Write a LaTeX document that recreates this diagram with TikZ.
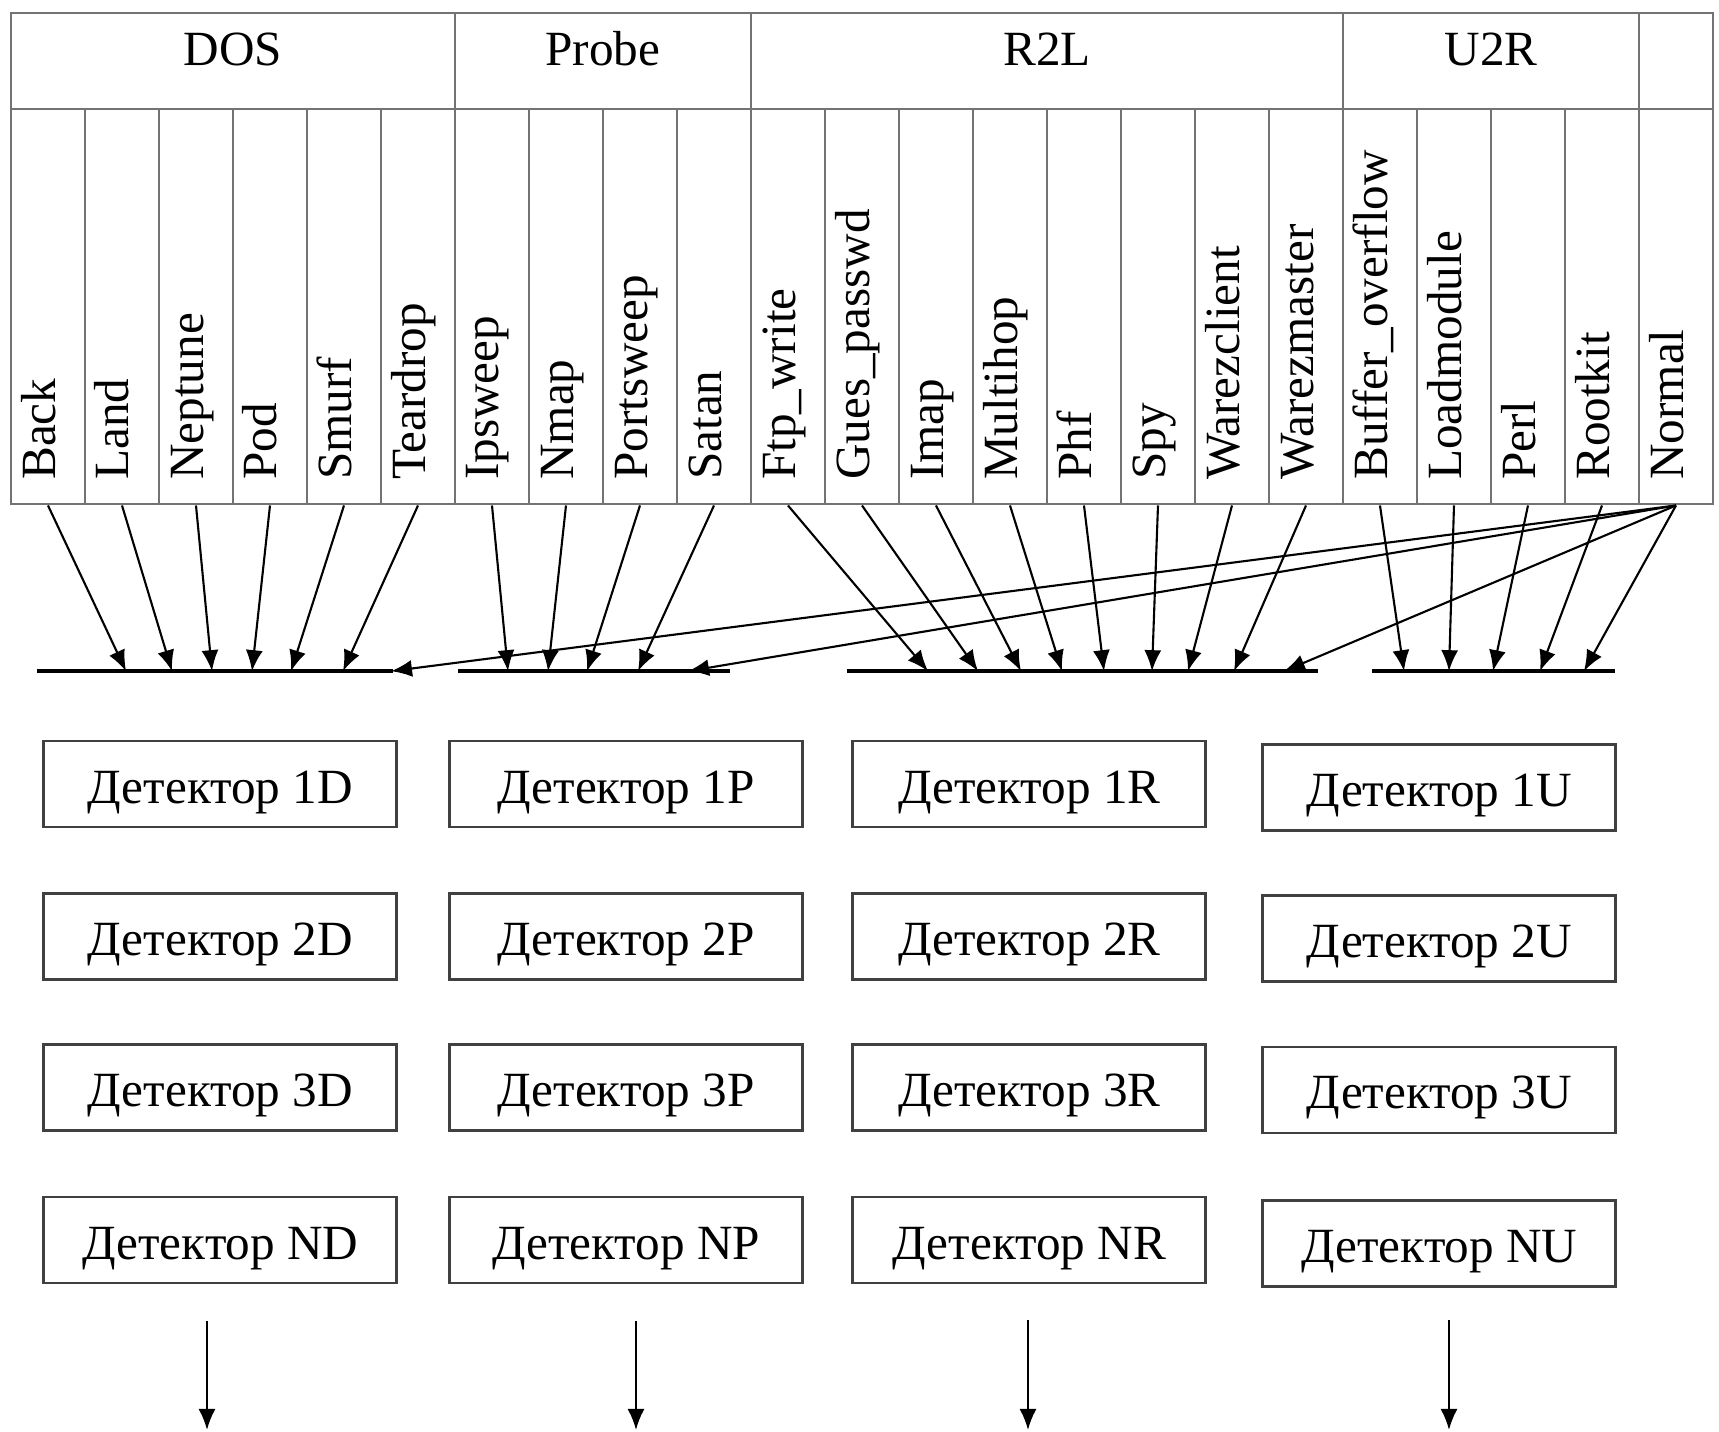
\documentclass[tikz,border=0pt]{standalone}
\usepackage{fontspec}
\setmainfont{Liberation Serif}
\usetikzlibrary{arrows.meta}

\begin{document}
\begin{tikzpicture}[font=\fontsize{14}{17}\selectfont, >={Latex[length=2.1mm,width=1.7mm]},
	head/.style={draw=black!55, line width=0.6pt, minimum height=0.954cm, inner sep=0, text height=0.33cm, text depth=0.24cm},
	cell/.style={draw=black!55, line width=0.6pt, minimum width=0.74cm, minimum height=3.957cm, inner sep=0},
	lbl/.style={rotate=90, anchor=base west, inner sep=0},
	det/.style={draw=black!75, line width=0.8pt, minimum width=3.53cm, minimum height=0.86cm, text height=0.38cm, text depth=0cm},
	bar/.style={line width=1.1pt},
	link/.style={->, line width=0.6pt}]
	\useasboundingbox (0,0) rectangle (17.19,14.32);

	% classes
	\node at (2.33,13.709) [head, minimum width=4.44cm] (dos) {DOS};
	\node at (6.03,13.709) [head, minimum width=2.96cm] (probe) {Probe};
	\node at (10.47,13.709) [head, minimum width=5.92cm] (r2l) {R2L};
	\node at (14.91,13.709) [head, minimum width=2.96cm] (u2r) {U2R};
	\node at (16.76,13.709) [head, minimum width=0.74cm] (norm) {};

	% attacks
	\node at (0.48,11.254) [cell] (back) {};
	\node at (1.22,11.254) [cell] (land) {};
	\node at (1.96,11.254) [cell] (neptune) {};
	\node at (2.70,11.254) [cell] (pod) {};
	\node at (3.44,11.254) [cell] (smurf) {};
	\node at (4.18,11.254) [cell] (teardrop) {};
	\node at (4.92,11.254) [cell] (ipsweep) {};
	\node at (5.66,11.254) [cell] (nmap) {};
	\node at (6.40,11.254) [cell] (portsweep) {};
	\node at (7.14,11.254) [cell] (satan) {};
	\node at (7.88,11.254) [cell] (ftpwrite) {};
	\node at (8.62,11.254) [cell] (guespasswd) {};
	\node at (9.36,11.254) [cell] (imap) {};
	\node at (10.10,11.254) [cell] (multihop) {};
	\node at (10.84,11.254) [cell] (phf) {};
	\node at (11.58,11.254) [cell] (spy) {};
	\node at (12.32,11.254) [cell] (warezclient) {};
	\node at (13.06,11.254) [cell] (warezmaster) {};
	\node at (13.80,11.254) [cell] (bufferoverflow) {};
	\node at (14.54,11.254) [cell] (loadmodule) {};
	\node at (15.28,11.254) [cell] (perl) {};
	\node at (16.02,11.254) [cell] (rootkit) {};
	\node at (16.76,11.254) [cell] (normal) {};

	\node at ([xshift=0.07cm,yshift=0.25cm]back.south) [lbl] (tback) {Back};
	\node at ([xshift=0.07cm,yshift=0.25cm]land.south) [lbl] (tland) {Land};
	\node at ([xshift=0.07cm,yshift=0.25cm]neptune.south) [lbl] (tneptune) {Neptune};
	\node at ([xshift=0.07cm,yshift=0.25cm]pod.south) [lbl] (tpod) {Pod};
	\node at ([xshift=0.07cm,yshift=0.25cm]smurf.south) [lbl] (tsmurf) {Smurf};
	\node at ([xshift=0.07cm,yshift=0.25cm]teardrop.south) [lbl] (tteardrop) {Teardrop};
	\node at ([xshift=0.07cm,yshift=0.25cm]ipsweep.south) [lbl] (tipsweep) {Ipsweep};
	\node at ([xshift=0.07cm,yshift=0.25cm]nmap.south) [lbl] (tnmap) {Nmap};
	\node at ([xshift=0.07cm,yshift=0.25cm]portsweep.south) [lbl] (tportsweep) {Portsweep};
	\node at ([xshift=0.07cm,yshift=0.25cm]satan.south) [lbl] (tsatan) {Satan};
	\node at ([xshift=0.07cm,yshift=0.25cm]ftpwrite.south) [lbl] (tftpwrite) {Ftp\_write};
	\node at ([xshift=0.07cm,yshift=0.25cm]guespasswd.south) [lbl] (tguespasswd) {Gues\_passwd};
	\node at ([xshift=0.07cm,yshift=0.25cm]imap.south) [lbl] (timap) {Imap};
	\node at ([xshift=0.07cm,yshift=0.25cm]multihop.south) [lbl] (tmultihop) {Multihop};
	\node at ([xshift=0.07cm,yshift=0.25cm]phf.south) [lbl] (tphf) {Phf};
	\node at ([xshift=0.07cm,yshift=0.25cm]spy.south) [lbl] (tspy) {Spy};
	\node at ([xshift=0.07cm,yshift=0.25cm]warezclient.south) [lbl] (twarezclient) {Warezclient};
	\node at ([xshift=0.07cm,yshift=0.25cm]warezmaster.south) [lbl] (twarezmaster) {Warezmaster};
	\node at ([xshift=0.07cm,yshift=0.25cm]bufferoverflow.south) [lbl] (tbufferoverflow) {Buffer\_overflow};
	\node at ([xshift=0.07cm,yshift=0.25cm]loadmodule.south) [lbl] (tloadmodule) {Loadmodule};
	\node at ([xshift=0.07cm,yshift=0.25cm]perl.south) [lbl] (tperl) {Perl};
	\node at ([xshift=0.07cm,yshift=0.25cm]rootkit.south) [lbl] (trootkit) {Rootkit};
	\node at ([xshift=0.07cm,yshift=0.25cm]normal.south) [lbl] (tnormal) {Normal};

	% bars
	\draw [bar] (0.37,7.608) -- (3.93,7.608);
	\draw [bar] (4.58,7.608) -- (7.30,7.608);
	\draw [bar] (8.47,7.608) -- (13.18,7.608);
	\draw [bar] (13.72,7.608) -- (16.15,7.608);

	\coordinate (d1) at (1.26,7.608);
	\coordinate (d2) at (1.72,7.608);
	\coordinate (d3) at (2.12,7.608);
	\coordinate (d4) at (2.52,7.608);
	\coordinate (d5) at (2.91,7.608);
	\coordinate (d6) at (3.43,7.608);
	\coordinate (d7) at (3.91,7.608);
	\coordinate (p1) at (5.08,7.608);
	\coordinate (p2) at (5.48,7.608);
	\coordinate (p3) at (5.87,7.608);
	\coordinate (p4) at (6.38,7.608);
	\coordinate (p5) at (6.88,7.608);
	\coordinate (r1) at (9.28,7.608);
	\coordinate (r2) at (9.78,7.608);
	\coordinate (r3) at (10.21,7.608);
	\coordinate (r4) at (10.62,7.608);
	\coordinate (r5) at (11.04,7.608);
	\coordinate (r6) at (11.52,7.608);
	\coordinate (r7) at (11.88,7.608);
	\coordinate (r8) at (12.34,7.608);
	\coordinate (r9) at (12.84,7.608);
	\coordinate (u1) at (14.04,7.608);
	\coordinate (u2) at (14.49,7.608);
	\coordinate (u3) at (14.93,7.608);
	\coordinate (u4) at (15.40,7.608);
	\coordinate (u5) at (15.84,7.608);

	\draw [link] (back.south) -- (d1);
	\draw [link] (land.south) -- (d2);
	\draw [link] (neptune.south) -- (d3);
	\draw [link] (pod.south) -- (d4);
	\draw [link] (smurf.south) -- (d5);
	\draw [link] (teardrop.south) -- (d6);
	\draw [link] (ipsweep.south) -- (p1);
	\draw [link] (nmap.south) -- (p2);
	\draw [link] (portsweep.south) -- (p3);
	\draw [link] (satan.south) -- (p4);
	\draw [link] (ftpwrite.south) -- (r1);
	\draw [link] (guespasswd.south) -- (r2);
	\draw [link] (imap.south) -- (r3);
	\draw [link] (multihop.south) -- (r4);
	\draw [link] (phf.south) -- (r5);
	\draw [link] (spy.south) -- (r6);
	\draw [link] (warezclient.south) -- (r7);
	\draw [link] (warezmaster.south) -- (r8);
	\draw [link] (bufferoverflow.south) -- (u1);
	\draw [link] (loadmodule.south) -- (u2);
	\draw [link] (perl.south) -- (u3);
	\draw [link] (rootkit.south) -- (u4);
	\draw [link] (normal.south) -- (d7);
	\draw [link] (normal.south) -- (p5);
	\draw [link] (normal.south) -- (r9);
	\draw [link] (normal.south) -- (u5);

	% detectors
	\node at (2.204,6.479) [det] (det1d) {Детектор 1D};
	\node at (2.204,4.955) [det] (det2d) {Детектор 2D};
	\node at (2.204,3.442) [det] (det3d) {Детектор 3D};
	\node at (2.204,1.919) [det] (detnd) {Детектор ND};
	\node at (6.260,6.479) [det] (det1p) {Детектор 1P};
	\node at (6.260,4.955) [det] (det2p) {Детектор 2P};
	\node at (6.260,3.442) [det] (det3p) {Детектор 3P};
	\node at (6.260,1.919) [det] (detnp) {Детектор NP};
	\node at (10.294,6.479) [det] (det1r) {Детектор 1R};
	\node at (10.294,4.955) [det] (det2r) {Детектор 2R};
	\node at (10.294,3.442) [det] (det3r) {Детектор 3R};
	\node at (10.294,1.919) [det] (detnr) {Детектор NR};
	\node at (14.394,6.446) [det] (det1u) {Детектор 1U};
	\node at (14.394,4.933) [det] (det2u) {Детектор 2U};
	\node at (14.394,3.420) [det] (det3u) {Детектор 3U};
	\node at (14.394,1.886) [det] (detnu) {Детектор NU};

	\coordinate (outd1) at (2.07,1.107);
	\coordinate (outd2) at (2.07,0.02);
	\coordinate (outp1) at (6.36,1.107);
	\coordinate (outp2) at (6.36,0.02);
	\coordinate (outr1) at (10.28,1.12);
	\coordinate (outr2) at (10.28,0.02);
	\coordinate (outu1) at (14.49,1.12);
	\coordinate (outu2) at (14.49,0.02);

	\draw [link] (outd1) -- (outd2);
	\draw [link] (outp1) -- (outp2);
	\draw [link] (outr1) -- (outr2);
	\draw [link] (outu1) -- (outu2);
\end{tikzpicture}
\end{document}
